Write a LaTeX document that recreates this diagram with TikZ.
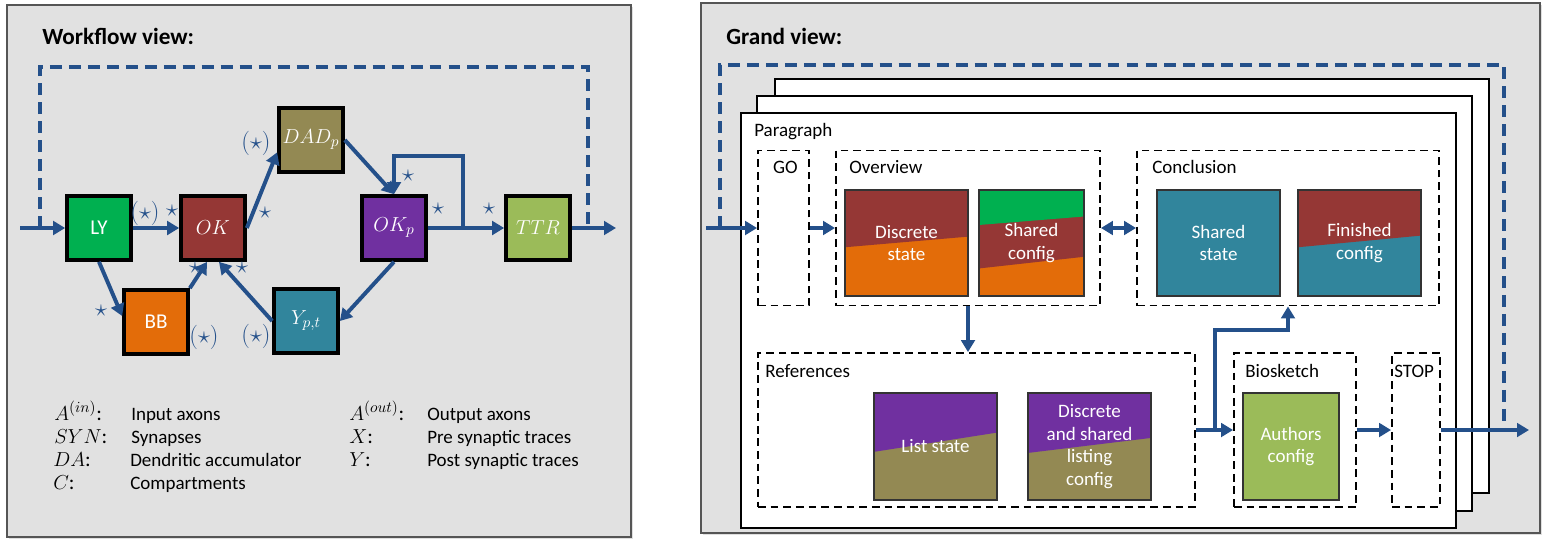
\documentclass[tikz,border=0pt]{standalone}
\usepackage{fontspec}
\setmainfont{Carlito}
\usetikzlibrary{arrows.meta, calc, shadows}
\definecolor{cblue}{HTML}{24508A}
\definecolor{cgreen}{HTML}{00B050}
\definecolor{cred}{HTML}{953735}
\definecolor{colive}{HTML}{938953}
\definecolor{cpurple}{HTML}{7030A0}
\definecolor{clime}{HTML}{9BBB59}
\definecolor{corange}{HTML}{E36C09}
\definecolor{cteal}{HTML}{31859C}
\definecolor{cpanel}{HTML}{E1E1E1}
\definecolor{cgrey}{HTML}{555555}
\newcommand\bandfill[3]{\fill[#1] (path picture bounding box.north west) -- (path picture bounding box.north east)
  -- ($(path picture bounding box.north east)!#3!(path picture bounding box.south east)$)
  -- ($(path picture bounding box.north west)!#2!(path picture bounding box.south west)$) -- cycle;}
\tikzset{
  every picture/.style={font=\fontsize{13.5}{16}\selectfont},
  panel/.style={draw=cgrey, fill=cpanel, line width=1.4pt, drop shadow={shadow xshift=1.5pt, shadow yshift=-1.5pt, opacity=0.25}},
  title/.style={font=\fontsize{16.5}{20}\selectfont\bfseries, inner sep=0pt},
  head/.style={inner sep=0pt},
  sym/.style={inner sep=0pt, font=\fontsize{15}{18}\selectfont},
  cell/.style={draw=black, fill=#1, line width=2.6pt, minimum width=1.6cm, minimum height=1.6cm, text=white, inner sep=0pt, font=\fontsize{15}{18}\selectfont},
  tile/.style={draw=black!80, line width=0.8pt, minimum height=2.65cm, text=white, align=center, inner sep=0pt},
  section/.style={draw=black, dash pattern=on 5.5pt off 3.5pt, line width=1.3pt, minimum height=3.875cm, inner sep=0pt},
  page/.style={draw=black, fill=white, line width=2pt},
  flow/.style={-{Triangle[length=3mm, width=3.4mm]}, draw=cblue, line width=2.8pt},
  both/.style={{Triangle[length=3mm, width=3.4mm]}-{Triangle[length=3mm, width=3.4mm]}},
  feedback/.style={draw=cblue, line width=2.8pt, dash pattern=on 8.5pt off 5pt},
  starlbl/.style={text=cblue, inner sep=0pt, font=\fontsize{16}{18}\selectfont},
}
\begin{document}
\begin{tikzpicture}[x=0.025cm, y=-0.025cm]
  \useasboundingbox (0,0) rectangle (1547,548);

  % workflow view
  \draw[panel] (7,5) rectangle (631,537);
  \node[title, anchor=base west] (wtitle) at (42,44) {Workflow view:};
  \coordinate (win) at (20,228);
  \coordinate (wout) at (616,228);
  \coordinate (wdl) at (40,228);
  \coordinate (wdtop) at (40,67);
  \coordinate (wdr) at (588,228);
  \coordinate (wloop) at (463,228);
  \coordinate (wltop) at (463,156);
  \draw[feedback] (wdl) -- (wdtop) -| (wdr);

  \node[cell=cgreen] (ly) at (99,228) {LY};
  \node[cell=cred] (ok) at (213,228) {$OK$};
  \node[cell=colive] (dad) at (311,140) {$DAD_p$};
  \node[cell=cpurple] (okp) at (394,228) {$OK_p$};
  \node[cell=clime] (ttr) at (538,228) {$TTR$};
  \node[cell=corange] (bb) at (156,322) {BB};
  \node[cell=cteal] (ypt) at (306,321) {$Y_{p,t}$};

  \draw[flow] (win) -- (ly);
  \draw[flow] (ly) -- (ok);
  \draw[flow] (ok.east) -- (dad.200);
  \draw[flow] (dad.east) -- (okp.north);
  \draw[flow] (wloop) -- (wltop) -| (okp.north);
  \draw[flow] (okp) -- (ttr);
  \draw[flow] (ttr) -- (wout);
  \draw[flow] (ly.south) -- (bb.170);
  \draw[flow] (bb.north east) -- (ok.-100);
  \draw[flow] (ypt.west) -- (ok.-80);
  \draw[flow] (okp.south) -- (ypt.east);

  \node[starlbl] (s1) at (145,213) {$(\star)$};
  \node[starlbl] (s2) at (172,211) {$\star$};
  \node[starlbl] (s3) at (265,213) {$\star$};
  \node[starlbl] (s4) at (256,143) {$(\star)$};
  \node[starlbl] (s5) at (408,176) {$\star$};
  \node[starlbl] (s6) at (438,209) {$\star$};
  \node[starlbl] (s7) at (489,209) {$\star$};
  \node[starlbl] (s8) at (195,268) {$\star$};
  \node[starlbl] (s9) at (242,268) {$\star$};
  \node[starlbl] (s10) at (101,311) {$\star$};
  \node[starlbl] (s11) at (204,337) {$(\star)$};
  \node[starlbl] (s12) at (256,336) {$(\star)$};

  % legend
  \node[sym, anchor=base west] (k1) at (54,420) {$A^{(in)}$:};
  \node[head, anchor=base west] (d1) at (131,420) {Input axons};
  \node[sym, anchor=base west] (k2) at (54,443) {$SYN$:};
  \node[head, anchor=base west] (d2) at (131,443) {Synapses};
  \node[sym, anchor=base west] (k3) at (53,466) {$DA$:};
  \node[head, anchor=base west] (d3) at (130,466) {Dendritic accumulator};
  \node[sym, anchor=base west] (k4) at (53,489) {$C$:};
  \node[head, anchor=base west] (d4) at (130,489) {Compartments};
  \node[sym, anchor=base west] (k5) at (349,420) {$A^{(out)}$:};
  \node[head, anchor=base west] (d5) at (427,420) {Output axons};
  \node[sym, anchor=base west] (k6) at (349,443) {$X$:};
  \node[head, anchor=base west] (d6) at (427,443) {Pre synaptic traces};
  \node[sym, anchor=base west] (k7) at (349,466) {$Y$:};
  \node[head, anchor=base west] (d7) at (427,466) {Post synaptic traces};

  % grand view
  \draw[panel] (701,3) rectangle (1540,533);
  \node[title, anchor=base west] (gtitle) at (726,44) {Grand view:};
  \coordinate (gdl) at (720,228);
  \coordinate (gdtop) at (720,65);
  \coordinate (gdr) at (1504,430);
  \draw[feedback] (gdl) -- (gdtop) -| (gdr);
  \draw[page] (775,79) rectangle (1489,493);
  \draw[page] (757,96) rectangle (1472,511);
  \draw[page] (741,113) rectangle (1456,528);
  \node[head, anchor=base west] (para) at (754,136) {Paragraph};

  \node[section, minimum width=1.275cm] (go) at (783.5,228) {};
  \node[section, minimum width=6.6cm] (ov) at (968,228) {};
  \node[section, minimum width=7.55cm] (con) at (1288,228) {};
  \node[section, minimum width=10.925cm, minimum height=3.85cm] (refs) at (976.5,430) {};
  \node[section, minimum width=3.05cm, minimum height=3.85cm] (bio) at (1295,430) {};
  \node[section, minimum width=1.2cm, minimum height=3.85cm] (stp) at (1416,430) {};
  \node[head, anchor=base] (got) at ([shift={(2,24)}]go.north) {GO};
  \node[head, anchor=base west] (ovt) at ([shift={(14,24)}]ov.north west) {Overview};
  \node[head, anchor=base west] (cont) at ([shift={(16,24)}]con.north west) {Conclusion};
  \node[head, anchor=base west] (refst) at ([shift={(8,25)}]refs.north west) {References};
  \node[head, anchor=base west] (biot) at ([shift={(12,25)}]bio.north west) {Biosketch};
  \node[head, anchor=base west] (stpt) at ([shift={(3,25)}]stp.north west) {STOP};

  \node[tile, minimum width=3.075cm, fill=corange, path picture={\bandfill{cred}{0.54}{0.44}}] (ds) at (906.5,243) {Discrete\\state};
  \node[tile, minimum width=2.625cm, fill=corange, path picture={\bandfill{cred}{0.74}{0.63}\bandfill{cgreen}{0.33}{0.25}}] (sc) at (1031.5,243) {Shared\\config};
  \node[tile, minimum width=3.075cm, fill=cteal] (ss) at (1218.5,243) {Shared\\state};
  \node[tile, minimum width=3.075cm, fill=cteal, path picture={\bandfill{cred}{0.54}{0.43}}] (fc) at (1359.5,243) {Finished\\config};
  \node[tile, minimum width=3.075cm, minimum height=2.675cm, fill=colive, path picture={\bandfill{cpurple}{0.55}{0.37}}] (ls) at (935.5,446.5) {List state};
  \node[tile, minimum width=3.075cm, minimum height=2.675cm, fill=colive, path picture={\bandfill{cpurple}{0.56}{0.42}}] (dsl) at (1089.5,446.5) {Discrete\\and shared\\listing\\config};
  \node[tile, minimum width=2.4cm, minimum height=2.675cm, fill=clime] (ac) at (1291,446.5) {Authors\\config};

  \coordinate (gin) at (706,228);
  \coordinate (gbr) at (1215,430);
  \coordinate (gout) at (1529,430);
  \draw[flow] (gin) -- (go.west);
  \draw[flow] (go.east) -- (ov.west);
  \draw[flow, both] (ov.east) -- (con.west);
  \draw[flow] (ov.south) -- (ov.south |- refs.north);
  \draw[flow] (refs.east) -- (bio.west);
  \draw[flow] (gbr) |- ([yshift=-0.6cm]con.south) -- (con.south);
  \draw[flow] (bio.east) -- (stp.west);
  \draw[flow] (stp.east) -- (gout);
\end{tikzpicture}
\end{document}
